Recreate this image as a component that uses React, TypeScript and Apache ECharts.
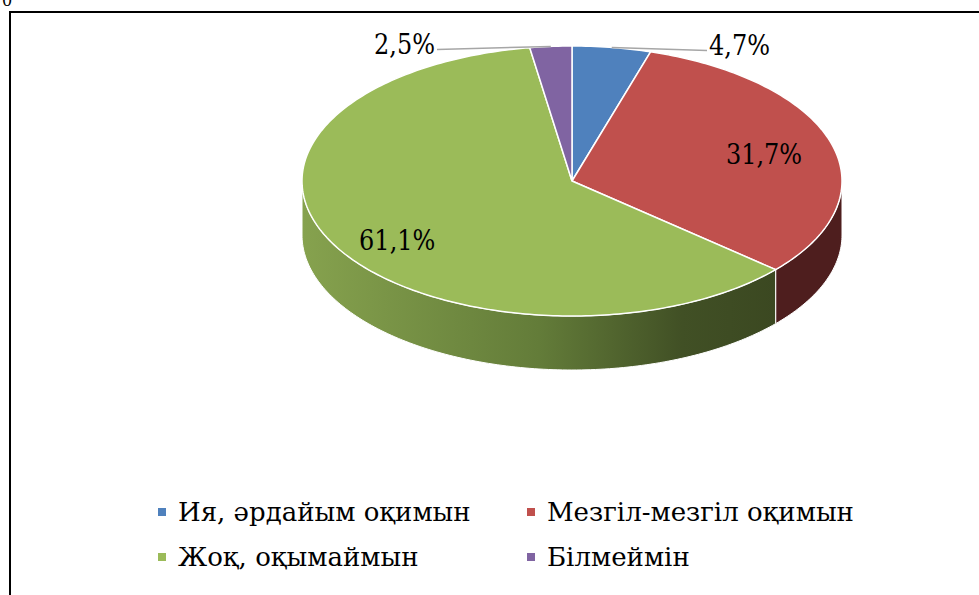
import React, { useEffect, useRef } from "react";
import * as echarts from "echarts";

const categories = ["Ия, әрдайым оқимын", "Мезгіл-мезгіл оқимын", "Жоқ, оқымаймын", "Білмеймін"];
const values = [4.7, 31.7, 61.1, 2.5];
const topColors = ["#4f81bd", "#c0504d", "#9bbb59", "#8064a2"];
const legendColumns = [[0, 2], [1, 3]];

const FONT = "DejaVu Serif";
const CX = 572, CY = 181, RX = 270, RY = 135, DEPTH = 54;

function pt(theta: number, dy = 0): number[] {
  const r = (theta * Math.PI) / 180;
  return [CX + RX * Math.sin(r), CY - RY * Math.cos(r) + dy];
}

function sideFill(i: number): any {
  if (i === 2) {
    return new echarts.graphic.LinearGradient(
      CX - RX, 0, 777, 0,
      [
        { offset: 0, color: "#86a24e" },
        { offset: 0.5, color: "#637c39" },
        { offset: 0.8, color: "#415025" },
        { offset: 1, color: "#3b4821" },
      ],
      true
    );
  }
  if (i === 1) return "#4e1e1e";
  if (i === 0) return "#283f5e";
  return "#3f3151";
}

function fmt(v: number) {
  return v.toFixed(1).replace(".", ",") + "%";
}

function makeRender(i: number) {
  return (params: any, api: any) => {
    const total = values.reduce((a, b) => a + b, 0);
    const before = values.slice(0, i).reduce((a, b) => a + b, 0);
    const start = (before / total) * 360;
    const end = start + (api.value(0) / total) * 360;
    const children: any[] = [];
    const a = Math.max(start, 90), b = Math.min(end, 270);
    if (b > a) {
      const pts: number[][] = [];
      const n = Math.max(4, Math.ceil(b - a));
      for (let k = 0; k <= n; k++) pts.push(pt(a + ((b - a) * k) / n));
      for (let k = n; k >= 0; k--) pts.push(pt(a + ((b - a) * k) / n, DEPTH));
      children.push({
        type: "polygon",
        shape: { points: pts },
        style: { fill: sideFill(i), stroke: "#ffffff", lineWidth: 1 },
      });
    }
    const tp: number[][] = [[CX, CY]];
    const n2 = Math.max(4, Math.ceil(end - start));
    for (let k = 0; k <= n2; k++) tp.push(pt(start + ((end - start) * k) / n2));
    children.push({
      type: "polygon",
      shape: { points: tp },
      style: { fill: topColors[i], stroke: "#ffffff", lineWidth: 1.5 },
    });
    const mid = (start + end) / 2;
    const pct = (api.value(0) / total) * 100;
    const textStyle = {
      text: fmt(api.value(0)),
      fontFamily: FONT,
      fontSize: 24,
      fill: "#000000",
      verticalAlign: "middle",
    };
    if (pct >= 10) {
      const f = 0.74;
      const r = (mid * Math.PI) / 180;
      const x = CX + RX * f * Math.sin(r);
      const y = CY - RY * f * Math.cos(r) + 0.4 * DEPTH * Math.max(0, -Math.cos(r));
      children.push({
        type: "text",
        x, y,
        scaleY: 1.2,
        style: { ...textStyle, align: "center" },
      });
    } else {
      const anchor = pt(mid);
      const dir = Math.sin((mid * Math.PI) / 180) >= 0 ? 1 : -1;
      const endPt = [CX + dir * RX * 0.5, anchor[1] + 3];
      children.push({
        type: "polyline",
        shape: { points: [anchor, endPt] },
        style: { stroke: "#a6a6a6", lineWidth: 1.5, fill: null },
      });
      children.push({
        type: "text",
        x: endPt[0] + dir * 2,
        y: endPt[1] - 6,
        scaleY: 1.2,
        style: { ...textStyle, align: dir > 0 ? "left" : "right" },
      });
    }
    return { type: "group", children };
  };
}

export default function App() {
  const ref = useRef<HTMLDivElement>(null);
  useEffect(() => {
    if (!ref.current) return;
    const chart = echarts.init(ref.current, undefined, { renderer: "svg" });
    const legendBase = {
      orient: "vertical",
      top: 490,
      itemWidth: 8,
      itemHeight: 8,
      itemGap: 11,
      icon: "rect",
      selectedMode: false,
      textStyle: {
        fontFamily: FONT,
        fontSize: 26,
        color: "#000000",
        lineHeight: 34,
        padding: [0, 0, 0, 7],
      },
    };
    chart.setOption({
      animation: false,
      backgroundColor: "#ffffff",
      legend: [
        { ...legendBase, left: 153, data: legendColumns[0].map((k) => categories[k]) },
        { ...legendBase, left: 522, data: legendColumns[1].map((k) => categories[k]) },
      ],
      graphic: [
        {
          type: "rect",
          shape: { x: 10, y: 12, width: 1000, height: 620 },
          style: { fill: "none", stroke: "#000000", lineWidth: 2 },
          silent: true,
        },
        {
          type: "text",
          x: 2,
          y: -8,
          style: { text: "0", fontFamily: FONT, fontSize: 16, fill: "#000000" },
          silent: true,
        },
      ],
      series: categories.map((name, i) => ({
        type: "custom",
        name,
        coordinateSystem: "none",
        itemStyle: { color: topColors[i] },
        data: [values[i]],
        renderItem: makeRender(i),
        silent: true,
      })),
    });
    return () => chart.dispose();
  }, []);
  return (
    <div
      ref={ref}
      style={{ position: "fixed", left: 0, top: 0, width: 979, height: 595 }}
    />
  );
}
